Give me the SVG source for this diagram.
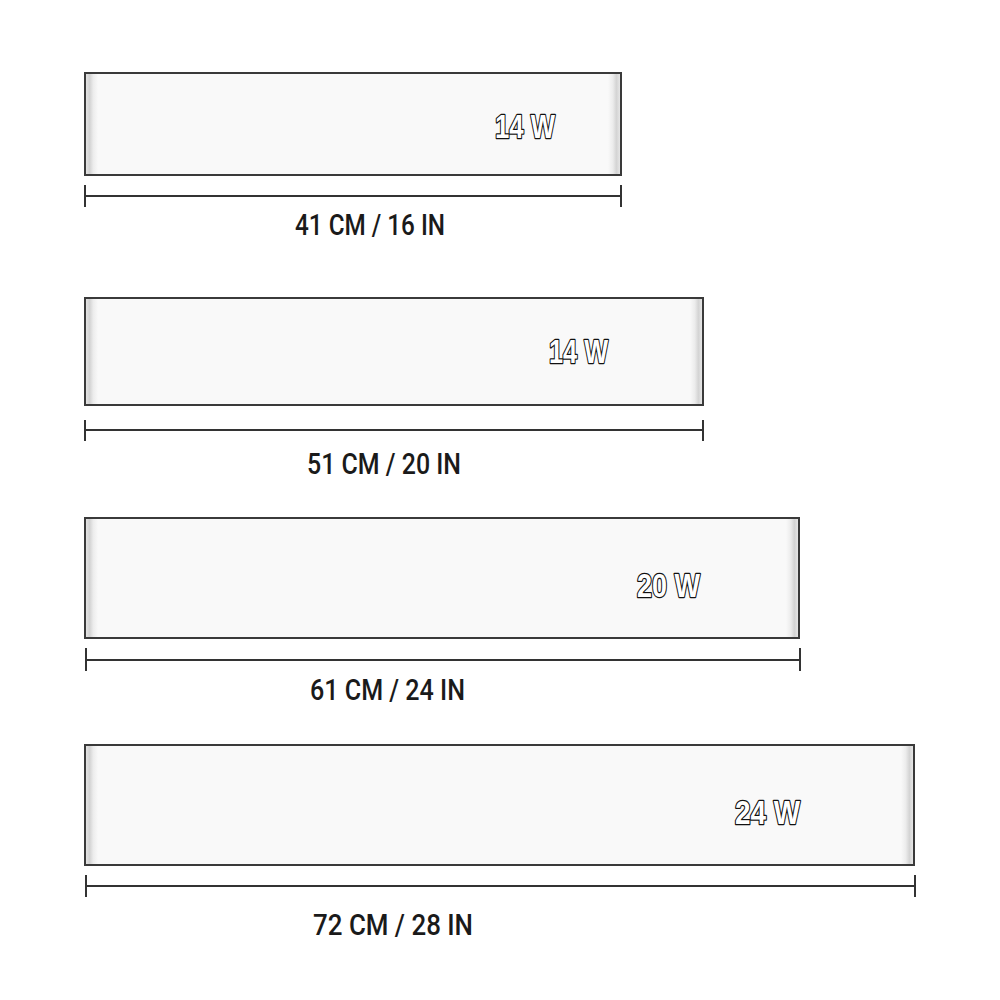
<svg xmlns="http://www.w3.org/2000/svg" width="1000" height="1000" viewBox="0 0 1000 1000">
<defs>
<linearGradient id="capL" x1="0" x2="1" y1="0" y2="0">
<stop offset="0" stop-color="#e2e2e2"/>
<stop offset="0.3" stop-color="#d2d2d2"/>
<stop offset="0.6" stop-color="#ececec"/>
<stop offset="1" stop-color="#f9f9f9"/>
</linearGradient>
<linearGradient id="capR" x1="1" x2="0" y1="0" y2="0">
<stop offset="0" stop-color="#e6e6e6"/>
<stop offset="0.3" stop-color="#d4d4d4"/>
<stop offset="0.6" stop-color="#ececec"/>
<stop offset="1" stop-color="#f9f9f9"/>
</linearGradient>
</defs>
<style>
.panel{fill:#f9f9f9;stroke:#3a3a3a;stroke-width:2}
.dim{stroke:#333;stroke-width:2;fill:none}
.lbl{font-family:Roboto,"Liberation Sans",sans-serif;font-weight:500;font-size:29px;fill:#1a1a1a}
.watt{font-family:"Liberation Sans",Roboto,sans-serif;font-weight:bold;font-size:34px;fill:#ffffff;stroke:#111;stroke-width:2.6;paint-order:stroke;stroke-linejoin:round}
</style>
<rect width="1000" height="1000" fill="#ffffff"/>

<g id="panel-41">
<rect class="panel" x="85" y="73" width="536" height="102"/>
<rect x="86" y="74" width="12" height="100" fill="url(#capL)"/>
<rect x="608" y="74" width="12" height="100" fill="url(#capR)"/>
<text class="watt" x="495" y="138" textLength="60" lengthAdjust="spacingAndGlyphs">14 W</text>
</g>
<g id="panel-51">
<rect class="panel" x="85" y="298" width="618" height="107"/>
<rect x="86" y="299" width="12" height="105" fill="url(#capL)"/>
<rect x="690" y="299" width="12" height="105" fill="url(#capR)"/>
<text class="watt" x="549" y="363" textLength="59" lengthAdjust="spacingAndGlyphs">14 W</text>
</g>
<g id="panel-61">
<rect class="panel" x="85" y="518" width="714" height="120"/>
<rect x="86" y="519" width="12" height="118" fill="url(#capL)"/>
<rect x="786" y="519" width="12" height="118" fill="url(#capR)"/>
<text class="watt" x="637" y="597" textLength="63" lengthAdjust="spacingAndGlyphs">20 W</text>
</g>
<g id="panel-72">
<rect class="panel" x="85" y="745" width="829" height="120"/>
<rect x="86" y="746" width="12" height="118" fill="url(#capL)"/>
<rect x="901" y="746" width="12" height="118" fill="url(#capR)"/>
<text class="watt" x="735" y="824" textLength="65" lengthAdjust="spacingAndGlyphs">24 W</text>
</g>

<g id="connectors">
<path class="dim" d="M85 196H621M85 185V207M621 185V207"/>
<path class="dim" d="M85 430H703M85 420V441M703 420V441"/>
<path class="dim" d="M86 660H800M86 648V671M800 648V671"/>
<path class="dim" d="M86 886H915M86 875V897M915 875V897"/>
</g>

<g id="labels">
<text class="lbl" x="295" y="235" textLength="150" lengthAdjust="spacingAndGlyphs">41 CM / 16 IN</text>
<text class="lbl" x="307" y="474" textLength="154" lengthAdjust="spacingAndGlyphs">51 CM / 20 IN</text>
<text class="lbl" x="310" y="700" textLength="155" lengthAdjust="spacingAndGlyphs">61 CM / 24 IN</text>
<text class="lbl" x="313" y="935" textLength="160" lengthAdjust="spacingAndGlyphs">72 CM / 28 IN</text>
</g>
</svg>
